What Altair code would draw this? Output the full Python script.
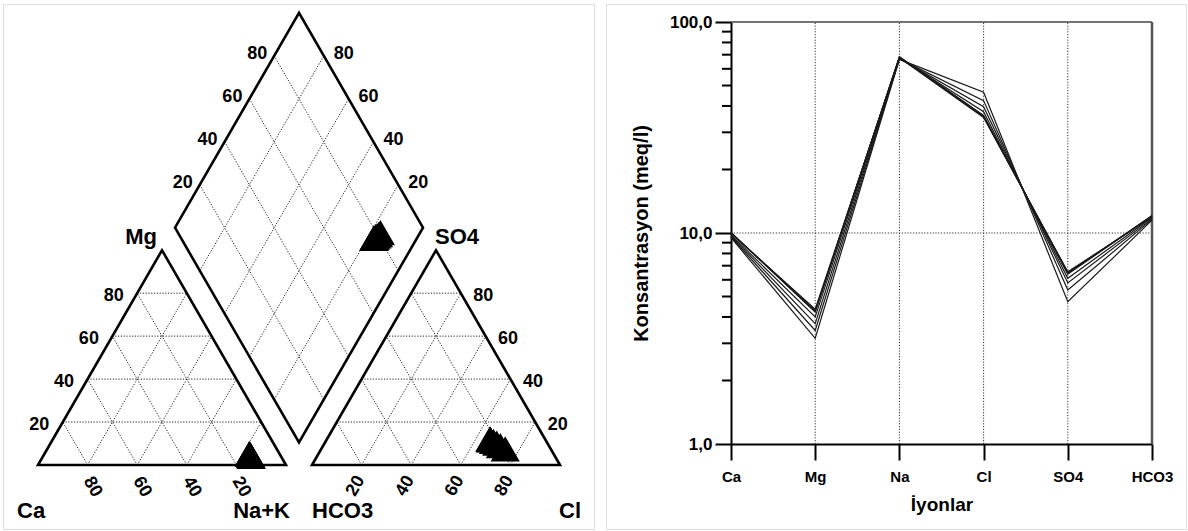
import math
import altair as alt
import pandas as pd

# ---------------- data (meq/l) ----------------
ions = ["Ca", "Mg", "Na", "Cl", "SO4", "HCO3"]
samples = ["S1", "S2", "S3", "S4", "S5", "S6", "S7", "S8"]
ca = [10.00, 10.05, 9.95, 10.02, 9.80, 9.70, 9.60, 9.50]
mg = [4.30, 4.25, 4.35, 4.22, 4.00, 3.72, 3.45, 3.17]
na = [68.0, 68.5, 67.6, 68.2, 67.5, 67.2, 66.8, 66.5]
cl = [35.6, 35.9, 35.3, 36.1, 37.6, 39.7, 42.4, 46.5]
so4 = [6.48, 6.42, 6.55, 6.38, 6.10, 5.80, 5.37, 4.72]
hco3 = [12.0, 12.1, 11.9, 12.05, 11.85, 11.7, 11.6, 11.5]

piper_ticks = [20, 40, 60, 80]
y_major = [1, 10, 100]
y_minor = [2, 3, 4, 5, 6, 7, 8, 9, 20, 30, 40, 50, 60, 70, 80, 90]
y_labels = {1: "1,0", 10: "10,0", 100: "100,0"}

FONT = "Liberation Sans"

# ---------------- Piper geometry (left panel pixel units) ----------------
PW, PH = 591, 525
SIDE = 248.0
GAP = 26.0
K = math.sqrt(3) / 2
HT = SIDE * K
CX0 = 35.0
AX0 = CX0 + SIDE + GAP
BASE = 461.0


def cat_xy(c, m, n):
    return CX0 + SIDE * (n + m / 2), BASE - HT * m


def an_xy(h, s, c):
    return AX0 + SIDE * (c + s / 2), BASE - HT * s


def dia_xy(p, q):
    bc = CX0 + SIDE * p
    ba = AX0 + SIDE * q
    return (bc + ba) / 2, BASE - K * (ba - bc)


# sample points
pts = []
for i, s in enumerate(samples):
    ct = ca[i] + mg[i] + na[i]
    at = hco3[i] + so4[i] + cl[i]
    fc, fm, fn = ca[i] / ct, mg[i] / ct, na[i] / ct
    fh, fs, fl = hco3[i] / at, so4[i] / at, cl[i] / at
    for (x, y) in (cat_xy(fc, fm, fn), an_xy(fh, fs, fl), dia_xy(fn, fs + fl)):
        pts.append({"sample": s, "x": x, "y": y})
pts_df = pd.DataFrame(pts)

# outlines
outline = []
shapes = {
    "cat": [cat_xy(1, 0, 0), cat_xy(0, 0, 1), cat_xy(0, 1, 0)],
    "an": [an_xy(1, 0, 0), an_xy(0, 0, 1), an_xy(0, 1, 0)],
    "dia": [dia_xy(0, 0), dia_xy(1, 0), dia_xy(1, 1), dia_xy(0, 1)],
}
for name, verts in shapes.items():
    for j, (x, y) in enumerate(verts):
        outline.append({"shape": name, "i": j, "x": x, "y": y})
outline_df = pd.DataFrame(outline)

# grid segments
segs = []
for t in piper_ticks:
    f = t / 100
    for fn_ in (cat_xy, an_xy):
        for a, b in (((1 - f, f, 0), (0, f, 1 - f)),
                     ((1 - f, 0, f), (0, 1 - f, f)),
                     ((f, 0, 1 - f), (f, 1 - f, 0))):
            x1, y1 = fn_(*a)
            x2, y2 = fn_(*b)
            segs.append({"x": x1, "y": y1, "x2": x2, "y2": y2})
    for a, b in (((f, 0), (f, 1)), ((0, f), (1, f))):
        x1, y1 = dia_xy(*a)
        x2, y2 = dia_xy(*b)
        segs.append({"x": x1, "y": y1, "x2": x2, "y2": y2})
grid_df = pd.DataFrame(segs)


def lab(rows):
    return pd.DataFrame(rows, columns=["x", "y", "t"])


lab_cat_left, lab_cat_bot, lab_an_right, lab_an_bot, lab_dia_l, lab_dia_r = [], [], [], [], [], []
for t in piper_ticks:
    f = t / 100
    x, y = cat_xy(1 - f, f, 0); lab_cat_left.append((x - 13.5, y + 3, str(t)))
    x, y = cat_xy(f, 0, 1 - f); lab_cat_bot.append((x + 5, y + 22, str(t)))
    x, y = an_xy(0, f, 1 - f); lab_an_right.append((x + 12.5, y + 3, str(t)))
    x, y = an_xy(1 - f, 0, f); lab_an_bot.append((x - 6, y + 21, str(t)))
    x, y = dia_xy(0, f); lab_dia_l.append((x - 7, y - 2, str(t)))
    x, y = dia_xy(f, 1); lab_dia_r.append((x + 10, y - 2, str(100 - t)))

cbl = cat_xy(1, 0, 0); cbr = cat_xy(0, 0, 1); cap = cat_xy(0, 1, 0)
abl = an_xy(1, 0, 0); abr = an_xy(0, 0, 1); aap = an_xy(0, 1, 0)
corner_left = lab([(cbl[0] - 21, cbl[1] + 53, "Ca"), (abl[0], abl[1] + 53, "HCO3"),
                   (abr[0] - 1, abr[1] + 53, "Cl")])
corner_right = lab([(cbr[0] + 4, cbr[1] + 53, "Na+K")])
corner_mid = lab([(cap[0] - 21, cap[1] - 6, "Mg"), (aap[0] + 21, aap[1] - 6, "SO4")])

XS = alt.Scale(domain=[0, PW], nice=False, zero=False)
YS = alt.Scale(domain=[0, PH], nice=False, zero=False, reverse=True)
ex = alt.X("x:Q", scale=XS, axis=None)
ey = alt.Y("y:Q", scale=YS, axis=None)

grid = alt.Chart(grid_df).mark_rule(color="#222", strokeWidth=1, strokeDash=[1.2, 1.6]).encode(
    x=ex, y=ey, x2="x2:Q", y2="y2:Q")
outl = alt.Chart(outline_df).mark_line(color="black", strokeWidth=2.6, interpolate="linear-closed",
                                       strokeJoin="miter").encode(
    x=ex, y=ey, detail="shape:N", order="i:Q")
points = alt.Chart(pts_df).mark_point(shape="triangle-up", filled=True, size=850, color="black",
                                      opacity=1, strokeWidth=0).encode(x=ex, y=ey, detail="sample:N")


def txt(df, size=18, **kw):
    return alt.Chart(df).mark_text(font=FONT, fontSize=size, fontWeight="bold", color="black", **kw).encode(
        x=ex, y=ey, text="t:N")


left = alt.layer(
    grid, outl, points,
    txt(lab(lab_cat_left), align="right", baseline="middle"),
    txt(lab(lab_an_right), align="left", baseline="middle"),
    txt(lab(lab_dia_l), align="right", baseline="middle"),
    txt(lab(lab_dia_r), align="left", baseline="middle"),
    txt(lab(lab_cat_bot), align="center", baseline="middle", angle=60),
    txt(lab(lab_an_bot), align="center", baseline="middle", angle=300),
    txt(corner_left, size=22, align="left", baseline="alphabetic"),
    txt(corner_right, size=22, align="right", baseline="alphabetic"),
    txt(corner_mid, size=22, align="center", baseline="alphabetic"),
).properties(width=PW, height=PH)

# ---------------- Schoeller panel ----------------
RW, RH = 580, 525
XR = [125, 546]
YR = [440, 18]
MINOR_LEN = 9

rows = []
for i, s in enumerate(samples):
    vals = [ca[i], mg[i], na[i], cl[i], so4[i], hco3[i]]
    for k, (ion, v) in enumerate(zip(ions, vals)):
        rows.append({"sample": s, "ion": ion, "k": k, "value": v})
long_df = pd.DataFrame(rows)

xs = alt.Scale(type="point", domain=ions, range=XR, padding=0)
ys = alt.Scale(type="log", domain=[1, 100], range=YR, nice=False)

xaxis = alt.Axis(orient="bottom", offset=YR[0] - RH, title="İyonlar", labelAngle=0,
                 domainColor="black", domainWidth=2, tickColor="black", tickWidth=2, tickSize=16,
                 labelPadding=9, labelFont=FONT, labelFontSize=15, labelFontWeight="bold",
                 labelColor="black", titleFont=FONT, titleFontSize=19, titleFontWeight="bold",
                 titleColor="black", titlePadding=11, grid=False)
label_expr = "".join(f"datum.value == {v} ? '{y_labels[v]}' : " for v in y_major) + "''"
yaxis = alt.Axis(orient="left", offset=-XR[0], values=y_major, tickSize=16,
                 labelExpr=label_expr, labelOverlap=False,
                 domainColor="black", domainWidth=2, tickColor="black", tickWidth=2,
                 labelPadding=3, labelFont=FONT, labelFontSize=17, labelFontWeight="bold",
                 labelColor="black", title="Konsantrasyon (meq/l)", titleFont=FONT,
                 titleFontSize=20, titleFontWeight="bold", titleColor="black", titlePadding=18,
                 grid=False)
rx = alt.X("ion:N", scale=xs, axis=xaxis, sort=ions)
ry = alt.Y("value:Q", scale=ys, axis=yaxis)

vgrid_df = pd.DataFrame({"ion": ions[1:-1], "value": [1] * 4, "value2": [100] * 4})
hgrid_df = pd.DataFrame({"ion": ["Ca"], "ion2": ["HCO3"], "value": [10]})
top_df = pd.DataFrame({"ion": ["Ca"], "ion2": ["HCO3"], "value": [100]})
rside_df = pd.DataFrame({"ion": ["HCO3"], "value": [1], "value2": [100]})
minor_df = pd.DataFrame({"value": y_minor})

dot = dict(color="#333", strokeWidth=1, strokeDash=[1.2, 1.6])
vgrid = alt.Chart(vgrid_df).mark_rule(**dot).encode(x=rx, y=ry, y2="value2:Q")
hgrid = alt.Chart(hgrid_df).mark_rule(**dot).encode(x=rx, x2="ion2:N", y=ry)
topl = alt.Chart(top_df).mark_rule(color="#444", strokeWidth=1.5).encode(x=rx, x2="ion2:N", y=ry)
rside = alt.Chart(rside_df).mark_rule(color="#555", strokeWidth=2.5).encode(x=rx, y=ry, y2="value2:Q")
minor = alt.Chart(minor_df).mark_rule(color="black", strokeWidth=2).encode(
    y=ry, x=alt.value(XR[0] - MINOR_LEN), x2=alt.value(XR[0]))
lines = alt.Chart(long_df).mark_line(color="#1a1a1a", strokeWidth=1.2).encode(
    x=rx, y=ry, detail="sample:N", order="k:Q")

right = alt.layer(vgrid, hgrid, topl, rside, minor, lines).properties(width=RW, height=RH)

chart = alt.hconcat(left, right, spacing=12, bounds="flush").properties(
    padding={"left": 2, "top": 3, "right": 0, "bottom": 0}
).configure_view(stroke="black", strokeWidth=2.5).configure(font=FONT)

chart.save("out.html", embed_options={"renderer": "svg", "actions": False})
